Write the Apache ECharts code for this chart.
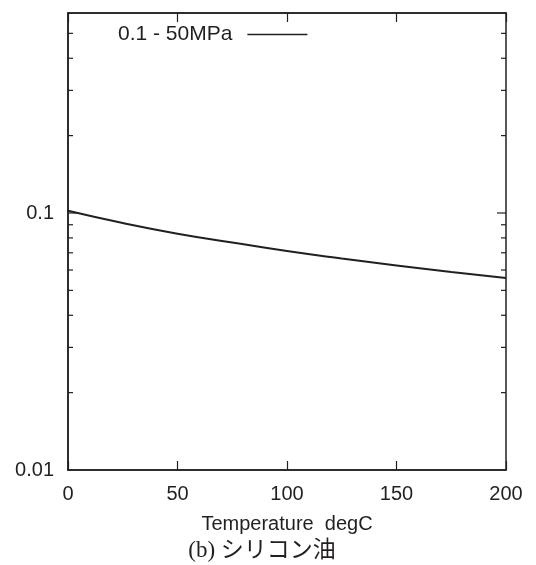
<!DOCTYPE html>
<html>
<head>
<meta charset="utf-8">
<script src="https://cdn.jsdelivr.net/npm/echarts@6/dist/echarts.min.js"></script>
<style>
  html, body { margin: 0; padding: 0; background: #fff; }
  #chart { width: 536px; height: 565px; }
</style>
</head>
<body>
<div id="chart"></div>
<script>
// Silicone oil, 0.1 - 50 MPa
const temperature = [0, 25, 50, 75, 100, 125, 150, 175, 200];
const values = [0.102, 0.0914, 0.0831, 0.0768, 0.0711, 0.0665, 0.0625, 0.0589, 0.0558];
const seriesName = '0.1 - 50MPa';

const X_MIN = 0, X_MAX = 200, X_STEP = 50;
const Y_MIN = 0.01, Y_MAX = 0.6;
const yLabelValues = [0.01, 0.1];
const yMajorTicks = [0.1];
const yMinorTicks = [0.02, 0.03, 0.04, 0.05, 0.06, 0.07, 0.08, 0.09, 0.2, 0.3, 0.4, 0.5];

const INK = '#231f20';
const FONT = '"Liberation Sans", Arial, sans-serif';

const lineData = temperature.map((t, i) => [t, values[i]]);
const tickData = yMajorTicks.map(v => [X_MIN, v, 9]).concat(yMinorTicks.map(v => [X_MIN, v, 5]));

const chart = echarts.init(document.getElementById('chart'), null, { renderer: 'canvas' });

chart.setOption({
  backgroundColor: '#fff',
  animation: false,
  grid: {
    left: 68, right: 30, top: 13, bottom: 95,
    show: true, borderColor: INK, borderWidth: 1.5, backgroundColor: 'transparent'
  },
  legend: {
    data: [{ name: seriesName, icon: 'rect' }],
    left: 113, top: 19,
    align: 'right',
    itemWidth: 60, itemHeight: 1.6,
    itemStyle: { color: INK, borderWidth: 0 },
    textStyle: { fontSize: 21, fontFamily: FONT, color: INK, padding: [0, 10, 0, 0] }
  },
  xAxis: [
    {
      type: 'value', position: 'bottom',
      min: X_MIN, max: X_MAX, interval: X_STEP,
      name: 'Temperature  degC',
      nameLocation: 'middle', nameGap: 44,
      nameTextStyle: { fontSize: 20, fontFamily: FONT, color: INK },
      axisLine: { show: true, lineStyle: { color: INK, width: 1.5 } },
      axisTick: { show: true, inside: true, length: 9, lineStyle: { color: INK, width: 1.2 } },
      axisLabel: { fontSize: 20, fontFamily: FONT, color: INK, margin: 14 },
      splitLine: { show: false }
    },
    {
      type: 'value', position: 'top',
      min: X_MIN, max: X_MAX, interval: X_STEP,
      axisLine: { show: true, lineStyle: { color: INK, width: 1.5 } },
      axisTick: { show: true, inside: true, length: 9, lineStyle: { color: INK, width: 1.2 } },
      axisLabel: { show: false },
      splitLine: { show: false }
    }
  ],
  yAxis: {
    type: 'log', logBase: 10,
    min: Y_MIN, max: Y_MAX,
    axisLine: { show: true, lineStyle: { color: INK, width: 1.5 } },
    axisTick: { show: false },
    axisLabel: {
      fontSize: 20, fontFamily: FONT, color: INK, margin: 14,
      formatter: v => yLabelValues.some(l => Math.abs(l - v) / l < 1e-6) ? String(+v.toPrecision(3)) : ''
    },
    splitLine: { show: false }
  },
  graphic: [{
    type: 'text',
    x: 262, y: 551,
    style: {
      text: '(b) シリコン油',
      fontSize: 23,
      fontFamily: '"Liberation Serif", "Noto Sans CJK JP", serif',
      fill: INK,
      align: 'center',
      verticalAlign: 'middle'
    }
  }],
  series: [
    {
      name: seriesName,
      type: 'line',
      data: lineData,
      smooth: true,
      symbol: 'none',
      lineStyle: { color: INK, width: 2 },
      itemStyle: { color: INK }
    },
    {
      // minor / major ticks on the left and right frame
      name: 'yTicks',
      type: 'custom',
      silent: true,
      clip: false,
      data: tickData,
      encode: { x: 0, y: 1 },
      renderItem: (params, api) => {
        const v = api.value(1);
        const len = api.value(2);
        const l = api.coord([X_MIN, v]);
        const r = api.coord([X_MAX, v]);
        const st = { stroke: INK, lineWidth: 1.2 };
        return {
          type: 'group',
          children: [
            { type: 'line', shape: { x1: l[0], y1: l[1], x2: l[0] + len, y2: l[1] }, style: st },
            { type: 'line', shape: { x1: r[0] - len, y1: r[1], x2: r[0], y2: r[1] }, style: st }
          ]
        };
      }
    }
  ]
});
</script>
</body>
</html>
